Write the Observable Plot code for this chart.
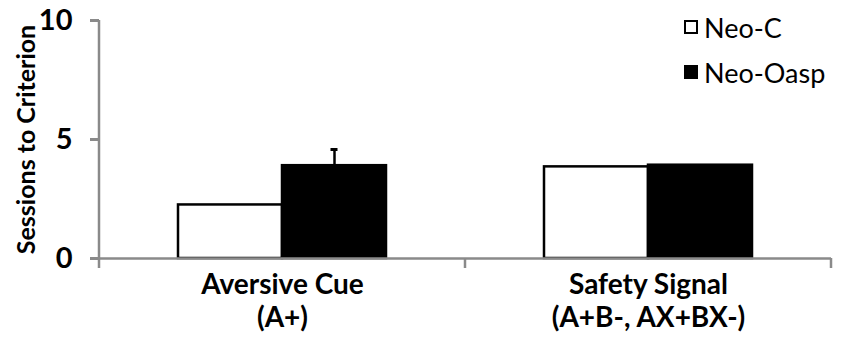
<!DOCTYPE html>
<html>
<head>
<meta charset="utf-8">
<script src="https://cdn.jsdelivr.net/npm/d3@7"></script>
<script src="https://cdn.jsdelivr.net/npm/@observablehq/plot@0.6"></script>
<style>
  body { margin: 0; background: #fff; }
  #wrap { position: relative; width: 841px; height: 339px; font-family: Lato, "Open Sans", sans-serif; }
  #legend { position: absolute; left: 684px; top: 15px; font-size: 27px; color: #000; line-height: 1; }
  #legend .row { display: flex; align-items: center; height: 24px; margin-bottom: 21px; }
  #legend .sw { width: 14px; height: 14px; box-sizing: border-box; border: 2px solid #000; margin-right: 6px; }
</style>
</head>
<body>
<div id="wrap"><div id="legend"></div></div>
<script>
const categories = ["Aversive Cue", "Safety Signal"];
const categorySubtitles = ["(A+)", "(A+B-, AX+BX-)"];
const groups = ["Neo-C", "Neo-Oasp"];
const groupFills = ["white", "black"];
const neoC = [2.25, 3.85];
const neoOasp = [3.9, 3.92];
const neoOaspSem = [0.68, 0];
const yTicks = [0, 5, 10];

const rows = [];
categories.forEach((c, i) => {
  rows.push({cat: c, group: groups[0], value: neoC[i], sem: 0});
  rows.push({cat: c, group: groups[1], value: neoOasp[i], sem: neoOaspSem[i]});
});
const errRows = rows.filter(d => d.sem > 0);
const axisGray = "#8a8a8a";

const plot = Plot.plot({
  width: 841,
  height: 339,
  marginLeft: 99,
  marginRight: 10,
  marginTop: 20,
  marginBottom: 81,
  style: {fontFamily: "Lato, 'Open Sans', sans-serif", fontSize: "25px", fontWeight: "bold", background: "white", color: "black"},
  fx: {domain: categories, padding: 0},
  x: {domain: groups, paddingInner: 0, paddingOuter: 0.75, axis: null},
  y: {domain: [0, 10]},
  color: {domain: groups, range: groupFills},
  marks: [
    Plot.barY(rows, {fx: "cat", x: "group", y: "value", fill: "group", stroke: "black", strokeWidth: 2.5}),
    Plot.ruleX(errRows, {fx: "cat", x: "group", y1: "value", y2: d => d.value + d.sem, stroke: "black", strokeWidth: 2.5}),
    Plot.tickY(errRows, {fx: "cat", x: "group", y: d => d.value + d.sem, stroke: "black", strokeWidth: 3, insetLeft: 48.5, insetRight: 48.5}),
    Plot.ruleY([0], {stroke: axisGray, strokeWidth: 2.5}),
    Plot.axisY({
      ticks: yTicks, tickSize: 9, tickPadding: 18, stroke: axisGray, strokeWidth: 3,
      fill: "black",
      label: "Sessions to Criterion", labelAnchor: "center", labelArrow: "none", labelOffset: 82
    }),
    Plot.axisFx({
      anchor: "bottom", tickSize: 0, tickPadding: 13,
      tickFormat: d => d + "\n" + categorySubtitles[categories.indexOf(d)],
      fontSize: 28, fontWeight: "bold", lineHeight: 1.15, fill: "black", label: null
    })
  ]
});

// y-axis spine and category separator ticks, positioned through Plot's own scales
const fx = plot.scale("fx"), ys = plot.scale("y");
const svg = d3.select(plot.tagName === "svg" ? plot : plot.querySelector("svg"));
const y0 = ys.apply(0), yTop = ys.apply(yTicks[yTicks.length - 1]);
const left = fx.apply(categories[0]);
const g = svg.append("g").attr("stroke", axisGray).attr("stroke-width", 2.5);
g.append("line").attr("x1", left).attr("x2", left).attr("y1", yTop).attr("y2", y0 + 10);
const bounds = categories.map(c => fx.apply(c)).concat([fx.apply(categories[categories.length - 1]) + fx.bandwidth]);
bounds.slice(1).forEach(b => g.append("line").attr("x1", b).attr("x2", b).attr("y1", y0).attr("y2", y0 + 10));

// larger y tick labels
const tickStrings = yTicks.map(String);
svg.selectAll("text").filter(function() { return tickStrings.includes(this.textContent.trim()); })
  .style("font-size", "29px").style("font-weight", "bold");

document.getElementById("wrap").prepend(plot);

// legend
const leg = d3.select("#legend");
groups.forEach((gname, i) => {
  const r = leg.append("div").attr("class", "row");
  r.append("div").attr("class", "sw").style("background", groupFills[i]);
  r.append("span").text(gname);
});
</script>
</body>
</html>
